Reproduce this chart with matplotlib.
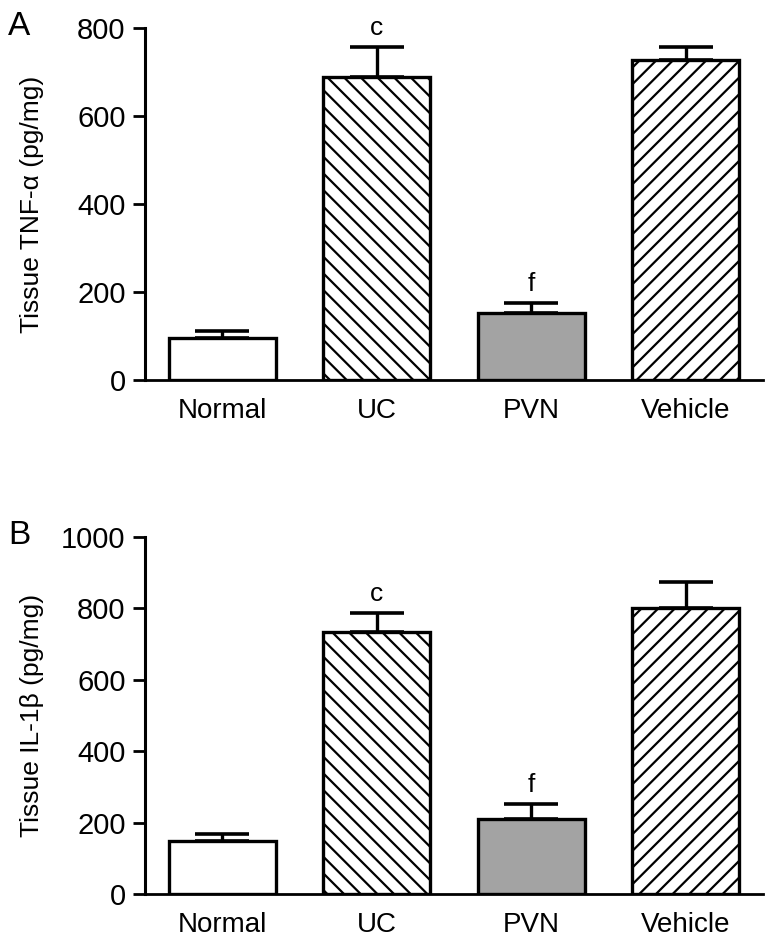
import matplotlib
matplotlib.use("Agg")
import matplotlib.pyplot as plt
import numpy as np

categories = ["Normal", "UC", "PVN", "Vehicle"]
tnf_means = [95, 689, 152, 727]
tnf_errs = [16, 68, 23, 30]
il1b_means = [148, 734, 210, 801]
il1b_errs = [20, 53, 42, 73]
tnf_letters = ["", "c", "f", ""]
il1b_letters = ["", "c", "f", ""]

FAM = ["Liberation Sans", "DejaVu Sans"]
plt.rcParams['hatch.linewidth'] = 1.6
DPI = 100
fig = plt.figure(figsize=(773 / DPI, 944 / DPI), dpi=DPI)

tick_font = dict(family=FAM, size=21)
cat_font = dict(family=FAM, size=20)
lab_font = dict(family=FAM, size=19)

fills = ["white", "white", "#a3a3a3", "white"]
hatches = [None, "\\\\", None, "//"]


def panel(rect, means, errs, letters, ymax, ystep, ylabel, tag):
    ax = fig.add_axes(rect)
    x = np.arange(len(categories))
    ax.errorbar(x, means, yerr=[np.zeros(len(errs)), errs], fmt="none",
                ecolor="black", elinewidth=2.4, capsize=19.5, capthick=2.6, zorder=1)
    for i in range(len(categories)):
        ax.bar(x[i], means[i], width=0.69, color=fills[i], edgecolor="black",
               linewidth=2.4, hatch=hatches[i], zorder=2)
    for i, t in enumerate(letters):
        if t:
            ax.text(x[i], means[i] + errs[i] + ymax * 0.02, t, ha="center", va="bottom",
                    fontdict=dict(family=FAM, size=19))
    ax.set_xlim(-0.5, 3.5)
    ax.set_ylim(0, ymax)
    ax.set_yticks(np.arange(0, ymax + 1, ystep))
    ax.set_yticklabels([str(int(v)) for v in np.arange(0, ymax + 1, ystep)], fontdict=tick_font)
    ax.set_xticks(x)
    ax.set_xticklabels(categories, fontdict=cat_font)
    ax.tick_params(axis="x", length=0, pad=13)
    ax.tick_params(axis="y", length=8.5, width=2.0, pad=5.5)
    for s in ["top", "right"]:
        ax.spines[s].set_visible(False)
    ax.spines["left"].set_linewidth(2.2)
    ax.spines["bottom"].set_linewidth(2.0)
    ax.set_ylabel(ylabel, fontdict=lab_font)
    ax.yaxis.set_label_coords(-0.163, 0.5)
    ax.text(-0.222, 1.005, tag, transform=ax.transAxes, ha="left", va="center",
            fontdict=dict(family=FAM, size=24))
    return ax


panel([0.1876, 0.5975, 0.7995, 0.3729], tnf_means, tnf_errs, tnf_letters, 800, 200,
      "Tissue TNF-α (pg/mg)", "A")
panel([0.1876, 0.0530, 0.7995, 0.3781], il1b_means, il1b_errs, il1b_letters, 1000, 200,
      "Tissue IL-1β (pg/mg)", "B")

fig.savefig("out.png", dpi=DPI)
